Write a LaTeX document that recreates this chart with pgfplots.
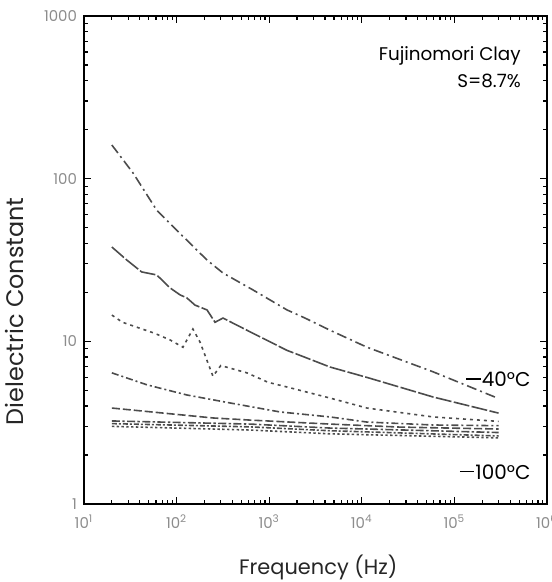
\documentclass[border=0pt]{standalone}
\usepackage{fontspec}
\setmainfont{Poppins}
\usepackage{pgfplots}
\pgfplotsset{compat=1.18}
\definecolor{curve}{HTML}{4C4C4C}
\definecolor{ticklab}{HTML}{8C8C8C}
% a long, thin minus sign for the temperature labels
\newcommand{\lminus}{\raisebox{0.34em}{\rule{0.72em}{0.065em}}\hspace{0.06em}}

\begin{document}
\begin{tikzpicture}
\useasboundingbox (-42bp,-39bp) rectangle (234bp,252bp);
\begin{axis}[
  at={(0,0)}, anchor=south west,
  scale only axis, width=231.5bp, height=244bp,
  xmode=log, ymode=log,
  xmin=10, xmax=1000000, ymin=1, ymax=1000,
  axis line style={line width=1.1pt},
  tick style={black, line width=0.6pt},
  major tick length=3.5bp, minor tick length=2bp,
  xtick={10,100,1000,10000,100000,1000000},
  xticklabels={10\textsuperscript{1},10\textsuperscript{2},10\textsuperscript{3},10\textsuperscript{4},10\textsuperscript{5},10\textsuperscript{6}},
  minor xtick={20,30,40,50,60,70,80,90,200,300,400,500,600,700,800,900,2000,3000,4000,5000,6000,7000,8000,9000,20000,30000,40000,50000,60000,70000,80000,90000,200000,300000,400000,500000,600000,700000,800000,900000},
  ytick={1,10,100,1000}, yticklabels={1,10,100,1000},
  minor ytick={2,3,4,5,6,7,8,9,20,30,40,50,60,70,80,90,200,300,400,500,600,700,800,900},
  tick label style={font=\fontsize{7.5}{8}\selectfont, text=ticklab},
  xticklabel style={yshift=-2bp},
  xlabel={Frequency (Hz)},
  ylabel={Dielectric Constant},
  label style={text=black!85},
  xlabel style={font=\fontsize{10.5}{12}\selectfont, at={(axis description cs:0.506,-0.130)}, anchor=center},
  ylabel style={font=\fontsize{12}{14}\selectfont, at={(axis description cs:-0.150,0.395)}, anchor=center},
  every axis plot/.append style={curve, line width=0.8bp},
  clip=false,
]
% -40 C
\addplot[dash pattern=on 5bp off 2bp on 1bp off 2bp] coordinates {
 (20,161) (34,108) (61,64) (109,46) (213,31.6) (317,26.3) (668,20.7)
 (1556,15.6) (2438,13.9) (4540,11.7) (11380,9.2) (58700,6.5) (300000,4.45)};
\addplot[dash pattern=on 8bp off 1.2bp] coordinates {
 (20,38) (29,31.6) (42,26.7) (61,25.6) (85,21.3) (109,19.3) (129,18.5)
 (158,16.7) (213,15.6) (260,13.1) (317,13.9) (575,11.7) (1556,8.8)
 (2150,8.2) (4540,6.95) (11380,6.0) (58700,4.55) (300000,3.62)};
\addplot[dash pattern=on 1.5bp off 2bp] coordinates {
 (20,14.5) (26,13.1) (58,11.2) (85,10.2) (117,9.2) (150,11.9) (179,9.9)
 (247,6.1) (300,7.1) (575,6.4) (971,5.6) (1556,5.24) (4540,4.48)
 (11380,3.89) (58700,3.43) (300000,3.22)};
\addplot[dash pattern=on 3.5bp off 1.5bp on 1bp off 1.5bp] coordinates {
 (20,6.4) (48,5.4) (129,4.68) (378,4.18) (1310,3.68) (4540,3.43)
 (11380,3.19) (58700,3.06) (300000,3.03)};
\addplot[dash pattern=on 4bp off 1.5bp] coordinates {
 (20,3.89) (247,3.38) (621,3.28) (4540,3.1) (25900,2.97) (300000,2.89)};
\addplot[dash pattern=on 4bp off 1.2bp on 1.2bp off 1.2bp] coordinates {
 (20,3.24) (620,3.1) (4540,2.93) (300000,2.75)};
\addplot[dash pattern=on 2.5bp off 1bp on 1bp off 1bp] coordinates {
 (20,3.12) (620,2.98) (4540,2.82) (300000,2.62)};
% -100 C
\addplot[dash pattern=on 1.2bp off 1.2bp] coordinates {
 (20,3.0) (620,2.85) (4540,2.7) (300000,2.55)};

\node[anchor=east, inner sep=0pt, font=\fontsize{9.2}{11}\selectfont] at (axis description cs:0.944,0.918) {Fujinomori Clay};
\node[anchor=east, inner sep=0pt, font=\fontsize{9.2}{11}\selectfont] at (axis description cs:0.944,0.867) {S=8.7\%};
\node[anchor=east, inner sep=0pt, font=\fontsize{10}{12}\selectfont] at (axis description cs:0.965,0.256) {\lminus 40°C};
\node[anchor=east, inner sep=0pt, font=\fontsize{10}{12}\selectfont] at (axis description cs:0.965,0.066) {\lminus 100°C};
\end{axis}
\end{tikzpicture}
\end{document}
